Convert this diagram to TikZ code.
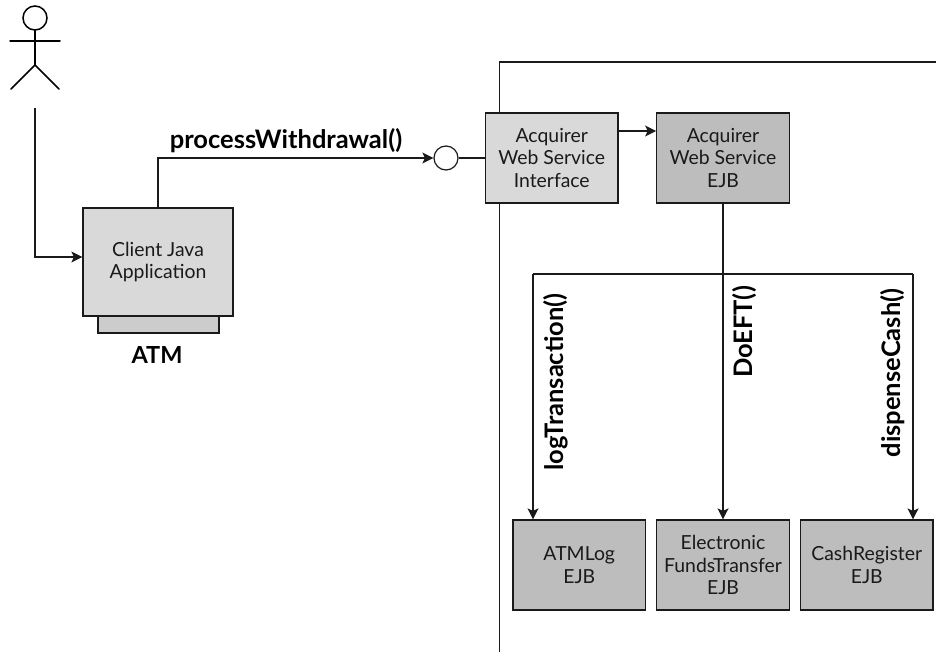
\documentclass[tikz,border=0pt]{standalone}
\usepackage{fontspec}
\setmainfont{Lato}
\usetikzlibrary{arrows.meta}
\definecolor{lightbox}{HTML}{D9D9D9}
\definecolor{darkbox}{HTML}{BDBDBD}
\definecolor{basebox}{HTML}{CCCCCC}
\definecolor{ink}{HTML}{1A1A1A}
\tikzset{
  x=1pt,y=-1pt,
  box/.style={draw=ink,line width=1.2pt,align=center,inner sep=0pt,minimum width=132.5pt,minimum height=90pt,font=\fontsize{19.4}{22.7}\selectfont,text=ink},
  lightnode/.style={box,fill=lightbox},
  darknode/.style={box,fill=darkbox},
  conn/.style={draw=ink,line width=1.2pt},
  arrowconn/.style={conn,-{Stealth[length=11pt,width=11pt,inset=2.5pt]}},
  biglabel/.style={font=\fontsize{25.5}{28}\selectfont\bfseries,text=black,inner sep=0pt},
  figure/.style={draw=black,line width=1.5pt,line cap=round},
}
\begin{document}
\begin{tikzpicture}
\useasboundingbox (0,0) rectangle (936,652);
\path[fill=white] (0,0) rectangle (936,652);
% frame
\coordinate (ftop) at (499.5,62);
\coordinate (fright) at (936,62);
\coordinate (fbot) at (499.5,652);
\draw[conn] (fright) -- (ftop) -- (fbot);
% actor
\node[draw=black,line width=1.5pt,circle,minimum size=24pt,inner sep=0pt] (head) at (35,18) {};
\coordinate (hip) at (35,65);
\coordinate (armL) at (10,41);
\coordinate (armR) at (60,41);
\coordinate (footL) at (11,89);
\coordinate (footR) at (59,89);
\draw[figure] (head.south) -- (hip);
\draw[figure] (armL) -- (armR);
\draw[figure] (footL) -- (hip) -- (footR);
% client
\node[draw=ink,line width=1.2pt,fill=basebox,minimum width=121pt,minimum height=17pt,inner sep=0pt] (base) at (158.5,324.5) {};
\node[lightnode,minimum width=150pt,minimum height=108pt] (client) at (158,262) {Client Java\\Application};
\node[biglabel,font=\fontsize{23.5}{26}\selectfont\bfseries] (atm) at (157,355) {ATM};
% web service
\node[lightnode] (iface) at (551.75,158) {Acquirer\\Web Service\\Interface};
\node[darknode] (ejb) at (723,158) {Acquirer\\Web Service\\EJB};
\node[draw=ink,line width=1.2pt,fill=white,circle,minimum size=24pt,inner sep=0pt] (lolly) at (446,158) {};
% bottom boxes
\node[darknode] (log) at (579.25,565) {ATMLog\\EJB};
\node[darknode] (eft) at (723,565) {Electronic\\FundsTransfer\\EJB};
\node[darknode] (cash) at (866.75,565) {CashRegister\\EJB};
% connectors
\coordinate (actorfoot) at (35,108);
\coordinate (clientin) at (83,257);
\coordinate (busL) at (533,274);
\coordinate (busR) at (913,274);
\coordinate (ejbin) at (656.5,131);
\draw[arrowconn] (actorfoot) |- (client.west |- clientin);
\draw[arrowconn] (client.north) |- (lolly.west);
\draw[conn] (lolly.east) -- (iface.west);
\draw[arrowconn] (iface.east |- ejbin) -- (ejb.west |- ejbin);
\draw[conn] (ejb.south) -- (ejb.south |- busL);
\draw[conn] (busL) -- (busR);
\draw[arrowconn] (busL) -- (busL |- log.north);
\draw[arrowconn] (ejb.south |- busL) -- (eft.north);
\draw[arrowconn] (busR) -- (busR |- cash.north);
% labels
\node[biglabel,anchor=base] (pw) at (286,149) {processWithdrawal()};
\node[biglabel,rotate=90,anchor=base] (lt) at (563.5,382) {logTransaction()};
\node[biglabel,rotate=90,anchor=base] (de) at (752,332) {DoEFT()};
\node[biglabel,rotate=90,anchor=base] (dc) at (900,373) {dispenseCash()};
\end{tikzpicture}
\end{document}
